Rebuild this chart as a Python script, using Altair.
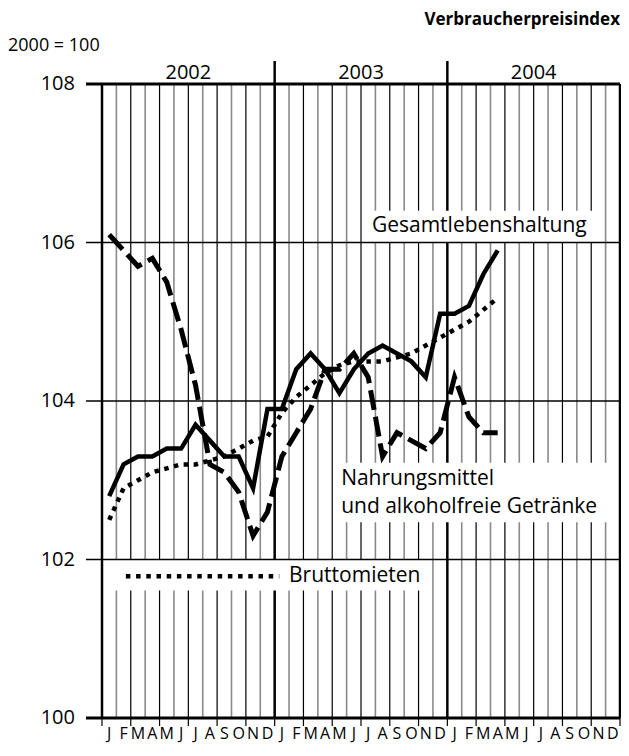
import altair as alt
import pandas as pd

# ---------------- data ----------------
years = ["2002", "2003", "2004"]
month_letters = ["J", "F", "M", "A", "M", "J", "J", "A", "S", "O", "N", "D"]
y_ticks = [100, 102, 104, 106, 108]

gesamt = [102.8, 103.2, 103.3, 103.3, 103.4, 103.4, 103.7, 103.5, 103.3, 103.3, 102.9, 103.9,
          103.9, 104.4, 104.6, 104.4, 104.1, 104.4, 104.6, 104.7, 104.6, 104.5, 104.3, 105.1,
          105.1, 105.2, 105.6, 105.9]
nahrung = [106.1, 105.9, 105.7, 105.8, 105.5, 104.9, 104.2, 103.2, 103.1, 102.85, 102.3, 102.6,
           103.3, 103.6, 103.9, 104.4, 104.4, 104.6, 104.3, 103.3, 103.6, 103.5, 103.4, 103.6,
           104.3, 103.8, 103.6, 103.6]
brutto = [102.5, 102.9, 103.0, 103.1, 103.15, 103.2, 103.2, 103.25, 103.3, 103.4, 103.5, 103.55,
          103.85, 104.05, 104.2, 104.35, 104.45, 104.5, 104.5, 104.5, 104.55, 104.6, 104.7, 104.8,
          104.9, 105.0, 105.15, 105.3]

label_gesamt = "Gesamtlebenshaltung"
label_nahrung = ["Nahrungsmittel", "und alkoholfreie Getränke"]
label_brutto = "Bruttomieten"
title_text = "Verbraucherpreisindex"
base_text = "2000 = 100"

# ---------------- layout ----------------
W, H = 518, 634
PAD_L, PAD_T, PAD_R, PAD_B = 94, 76, 1, 26
FONT = "Open Sans"
N_MONTHS = 36

xs = alt.Scale(domain=[0, N_MONTHS], nice=False, zero=False)
ys = alt.Scale(domain=[100, 108], nice=False, zero=False)


def X(f):
    return alt.X(f, type="quantitative", scale=xs, axis=None)


def Y(f):
    return alt.Y(f, type="quantitative", scale=ys, axis=None)


# vertical grid lines at month boundaries
bounds = pd.DataFrame({"b": list(range(N_MONTHS + 1))})
bounds["kind"] = ["year" if b % 12 == 0 else ("even" if b % 2 == 0 else "odd") for b in bounds["b"]]

odd_lines = alt.Chart(bounds[bounds.kind == "odd"]).mark_rule(color="#8a8a8a", strokeWidth=1.6).encode(
    x=X("b"), y=alt.value(0), y2=alt.value(H))
even_lines = alt.Chart(bounds[bounds.kind == "even"]).mark_rule(color="black", strokeWidth=1.2).encode(
    x=X("b"), y=alt.value(0), y2=alt.value(H))
even_ticks = alt.Chart(bounds[bounds.kind != "odd"]).mark_rule(color="black", strokeWidth=1.2).encode(
    x=X("b"), y=alt.value(H), y2=alt.value(H + 8))
year_lines = alt.Chart(bounds[(bounds.kind == "year") & (bounds.b > 0)]).mark_rule(color="black", strokeWidth=2.5).encode(
    x=X("b"), y=alt.value(0), y2=alt.value(H))
year_div = alt.Chart(bounds[(bounds.b == 12) | (bounds.b == 24)]).mark_rule(color="black", strokeWidth=2.5).encode(
    x=X("b"), y=alt.value(-23), y2=alt.value(0))

# white label boxes (cover the vertical grid)
boxes = pd.DataFrame({
    "m1": [18.07, 16.13, 0.1],
    "m2": [34.13, 35.24, 22.92],
    "v1": [106.40, 103.22, 102.0],
    "v2": [106.0, 102.47, 101.61],
})
box_layer = alt.Chart(boxes).mark_rect(color="white").encode(
    x=X("m1"), x2="m2", y=Y("v1"), y2="v2")

left_axis = alt.Chart(pd.DataFrame({"b": [0]})).mark_rule(color="black", strokeWidth=2.5).encode(
    x=X("b"), y=alt.value(0), y2=alt.value(H))

# horizontal grid lines
hdf = pd.DataFrame({"v": y_ticks})
h_thin = alt.Chart(hdf[(hdf.v > 100) & (hdf.v < 108)]).mark_rule(color="black", strokeWidth=1.5).encode(
    y=Y("v"), x=alt.value(-16), x2=alt.value(W))
h_thick = alt.Chart(hdf[(hdf.v == 100) | (hdf.v == 108)]).mark_rule(color="black", strokeWidth=3).encode(
    y=Y("v"), x=alt.value(-16), x2=alt.value(W))

# y tick labels
ylab = alt.Chart(hdf).mark_text(align="right", baseline="middle", font=FONT, fontSize=20, color="black").encode(
    y=Y("v"), x=alt.value(-27), text="v:Q")


def series_df(vals):
    return pd.DataFrame({"m": [i + 0.5 for i in range(len(vals))], "v": vals})


line_g = alt.Chart(series_df(gesamt)).mark_line(color="black", strokeWidth=4.5, strokeJoin="miter").encode(
    x=X("m"), y=Y("v"))
line_n = alt.Chart(series_df(nahrung)).mark_line(color="black", strokeWidth=5, strokeDash=[20, 7],
                                                  strokeCap="butt", strokeJoin="miter").encode(
    x=X("m"), y=Y("v"))
line_b = alt.Chart(series_df(brutto)).mark_line(color="black", strokeWidth=4.5, strokeDash=[4.5, 5.5],
                                                 strokeCap="butt", strokeJoin="miter").encode(
    x=X("m"), y=Y("v"))

# legend sample for Bruttomieten
leg = alt.Chart(pd.DataFrame({"m1": [1.66], "m2": [12.32], "v": [101.79]})).mark_rule(
    color="black", strokeWidth=4.5, strokeDash=[4.5, 5.7], strokeCap="butt").encode(
    x=X("m1"), x2="m2", y=Y("v"))

# series labels
labels = pd.DataFrame({
    "m": [18.76, 16.62, 16.62, 13.0],
    "v": [106.21, 103.01, 102.66, 101.79],
    "t": [label_gesamt, label_nahrung[0], label_nahrung[1], label_brutto],
})
label_layer = alt.Chart(labels).mark_text(align="left", baseline="middle", font=FONT, fontSize=21,
                                           color="black").encode(
    x=X("m"), y=Y("v"), text="t:N")

# month letters
mdf = pd.DataFrame({"m": [i + 0.5 for i in range(N_MONTHS)],
                    "t": month_letters * len(years)})
month_layer = alt.Chart(mdf).mark_text(align="center", baseline="alphabetic", font=FONT, fontSize=16,
                                        color="black").encode(
    x=X("m"), y=alt.value(H + 21), text="t:N")

# year labels
ydf = pd.DataFrame({"m": [6, 18, 30], "t": years})
year_layer = alt.Chart(ydf).mark_text(align="center", baseline="middle", font=FONT, fontSize=20,
                                       color="black").encode(
    x=X("m"), y=alt.value(-11), text="t:N")

# title + base note
title_layer = alt.Chart(pd.DataFrame({"t": [title_text]})).mark_text(
    align="right", baseline="middle", font=FONT, fontSize=17, fontWeight="bold", color="black").encode(
    x=alt.value(W), y=alt.value(-64), text="t:N")
base_layer = alt.Chart(pd.DataFrame({"t": [base_text]})).mark_text(
    align="left", baseline="middle", font=FONT, fontSize=18, color="black").encode(
    x=alt.value(-PAD_L), y=alt.value(-38), text="t:N")

chart = alt.layer(
    odd_lines, even_lines, year_lines, year_div, even_ticks,
    box_layer, left_axis, h_thin, h_thick,
    line_b, line_n, line_g, leg,
    ylab, label_layer, month_layer, year_layer, title_layer, base_layer,
).properties(
    width=W, height=H,
    padding={"left": PAD_L, "top": PAD_T, "right": PAD_R, "bottom": PAD_B},
    autosize=alt.AutoSizeParams(type="none"),
).configure_view(stroke=None)

chart.save("out.html", embed_options={"renderer": "svg", "actions": False})
